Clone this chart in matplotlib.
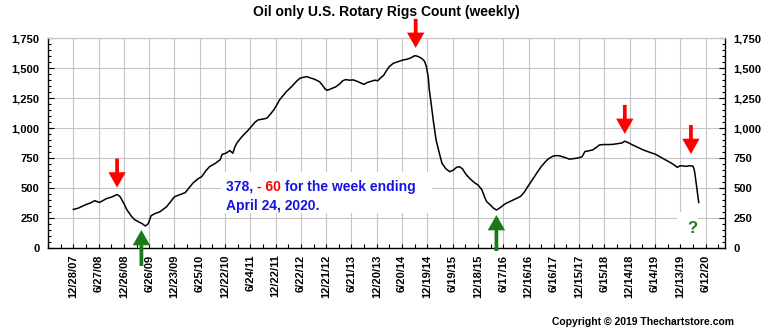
import matplotlib
matplotlib.use("Agg")
import matplotlib.pyplot as plt
from matplotlib.patches import Rectangle
from matplotlib.ticker import FuncFormatter, MultipleLocator

plt.rcParams["font.family"] = ["Liberation Sans", "DejaVu Sans"]
plt.rcParams["font.weight"] = "bold"

TITLE = "Oil only U.S. Rotary Rigs Count (weekly)"
COPYRIGHT = "Copyright \u00a9 2019 Thechartstore.com"

# weeks since 12/28/07 and weekly oil rig count
WEEKS = [
    0, 5, 12, 18, 22, 27, 34, 40, 45, 48, 52, 55, 60, 63, 68, 71, 74, 77, 80,
    84, 89, 93, 96, 100, 104, 110, 115, 120, 123, 128, 132, 136, 140, 146,
    151, 153, 157, 161, 164, 166, 168, 172, 175, 179, 183, 187, 190, 195,
    199, 203, 206, 209, 212, 216, 219, 223, 226, 230, 233, 237, 240, 244,
    248, 253, 256, 259, 261, 264, 267, 270, 274, 277, 280, 284, 288, 292,
    296, 299, 302, 306, 310, 313, 316, 319, 322, 325, 329, 334, 339, 343,
    346, 349, 351, 354, 358, 361, 363, 365, 366, 368, 370, 372, 373, 376,
    379, 383, 387, 391, 394, 397, 400, 404, 408, 413, 416, 420, 423, 425,
    429, 432, 435, 439, 442, 445, 450, 456, 460, 464, 468, 473, 477, 481,
    485, 488, 493, 497, 500, 505, 510, 515, 520, 523, 526, 530, 534, 538,
    541, 545, 550, 555, 560, 564, 567, 570, 575, 580, 586, 590, 595, 598,
    602, 606, 610, 615, 618, 621, 624, 627, 630, 634, 637, 638, 639, 640,
    641, 642, 643,
]
RIGS = [
    320, 330, 357, 375, 393, 378, 410, 425, 445, 428, 370, 318, 260, 235, 212,
    200, 181, 200, 268, 285, 300, 325, 343, 385, 426, 445, 460, 510, 540, 575,
    594, 640, 677, 705, 735, 780, 790, 812, 789, 840, 873, 915, 942, 975,
    1012, 1050, 1068, 1075, 1082, 1120, 1151, 1190, 1235, 1275, 1304, 1335,
    1360, 1395, 1416, 1425, 1430, 1418, 1408, 1388, 1360, 1325, 1315, 1325,
    1335, 1345, 1370, 1395, 1405, 1400, 1402, 1390, 1375, 1365, 1380, 1390,
    1400, 1395, 1420, 1440, 1480, 1515, 1541, 1555, 1569, 1575, 1583, 1595,
    1605, 1600, 1583, 1560, 1515, 1420, 1320, 1200, 1068, 960, 900, 800, 706,
    660, 635, 650, 672, 677, 660, 610, 575, 540, 525, 485, 420, 385, 355,
    330, 315, 335, 355, 371, 390, 413, 430, 468, 520, 580, 630, 677, 715,
    740, 765, 770, 767, 755, 740, 745, 752, 760, 803, 810, 817, 840, 859,
    862, 862, 864, 870, 875, 890, 880, 859, 840, 817, 805, 790, 783, 765,
    747, 730, 706, 690, 672, 685, 683, 680, 685, 682, 664, 624, 562, 504,
    438, 378,
]

TICK_STEP = 26
TICK_LABELS = [
    "12/28/07", "6/27/08", "12/26/08", "6/26/09", "12/23/09", "6/25/10",
    "12/22/10", "6/24/11", "12/22/11", "6/22/12", "12/21/12", "6/21/13",
    "12/20/13", "6/20/14", "12/19/14", "6/19/15", "12/18/15", "6/17/16",
    "12/16/16", "6/16/17", "12/15/17", "6/15/18", "12/14/18", "6/14/19",
    "12/13/19", "6/12/20",
]

# turning points marked with arrows: (week, arrow tip value)
PEAK_WEEKS = [45, 352, 567, 635]
PEAK_TIPS = [503, 1670, 951, 783]
TROUGH_WEEKS = [70, 435]
TROUGH_TIPS = [148, 273]

BLUE = "#1414e6"
RED = "#ff0000"
GREEN = "#1a7a1a"


def draw_arrow(ax, x, y, offset_px, color):
    ax.annotate(
        "", xy=(x, y), xytext=(0, offset_px), textcoords="offset pixels",
        annotation_clip=False,
        arrowprops=dict(
            arrowstyle="simple,head_length=1.1,head_width=1.25,tail_width=0.27",
            mutation_scale=10, fc=color, ec=color, lw=0,
            shrinkA=0, shrinkB=0,
        ),
    )


fig = plt.figure(figsize=(7.72, 3.34), dpi=100)
ax = fig.add_axes([0.0622, 0.2584, 0.8769, 0.6269])
ax.set_axisbelow(True)

ax.plot(WEEKS, RIGS, color="black", lw=1.1, zorder=2)

ax.set_xlim(-26, 670)
ax.set_ylim(0, 1750)
ticks = [i * TICK_STEP for i in range(len(TICK_LABELS))]
ax.set_xticks(ticks)
ax.set_xticklabels(TICK_LABELS, rotation=90, fontsize=8, fontweight="bold")
ax.xaxis.set_minor_locator(MultipleLocator(TICK_STEP / 2))
ax.yaxis.set_major_locator(MultipleLocator(250))
ax.yaxis.set_minor_locator(MultipleLocator(50))
ax.yaxis.set_major_formatter(FuncFormatter(lambda v, _: f"{v:,.0f}"))

ax.tick_params(axis="x", which="both", direction="in", length=3, width=0.8, pad=5)
ax.tick_params(axis="y", which="major", direction="in", length=4, width=0.8,
               right=True, labelright=True, pad=6, labelsize=8)
ax.tick_params(axis="y", which="minor", direction="in", length=2.5, width=0.8,
               right=True)
for lab in ax.get_yticklabels():
    lab.set_fontweight("bold")

ax.grid(True, which="major", color="#c4c4c4", lw=0.8)
for side in ("left", "right", "bottom"):
    ax.spines[side].set_color("black")
    ax.spines[side].set_linewidth(1.0)
ax.spines["top"].set_color("#c4c4c4")
ax.spines["top"].set_linewidth(0.8)

for w, v in zip(PEAK_WEEKS, PEAK_TIPS):
    draw_arrow(ax, w, v, 29, RED)
for w, v in zip(TROUGH_WEEKS, TROUGH_TIPS):
    draw_arrow(ax, w, v, -36, GREEN)

# note box
ax.add_patch(Rectangle((0.2555, 0.166), 0.3115, 0.196, transform=ax.transAxes,
                       fc="white", ec="none", zorder=1))
t1 = ax.text(0.263, 0.290, "378, ", color=BLUE, fontsize=10, fontweight="bold",
             transform=ax.transAxes, va="center", zorder=3)
t2 = ax.annotate("- 60", xy=(1, 0), xycoords=t1, va="bottom", color=RED,
                 fontsize=10, fontweight="bold", zorder=3)
ax.annotate(" for the week ending", xy=(1, 0), xycoords=t2, va="bottom",
            color=BLUE, fontsize=10, fontweight="bold", zorder=3)
ax.text(0.263, 0.199, "April 24, 2020.", color=BLUE, fontsize=10,
        fontweight="bold", transform=ax.transAxes, va="center", zorder=3)

ax.add_patch(Rectangle((0.9296, 0.0177), 0.031, 0.153, transform=ax.transAxes,
                       fc="white", ec="none", zorder=1))
ax.text(0.9512, 0.094, "?", color=GREEN, fontsize=12, fontweight="bold",
        transform=ax.transAxes, ha="center", va="center", zorder=3)

fig.text(0.5006, 0.964, TITLE, ha="center", va="center", fontsize=10,
         fontweight="bold")
fig.text(0.951, 0.036, COPYRIGHT, ha="right", va="center", fontsize=7.5,
         fontweight="bold")

fig.savefig("out.png", dpi=100)
